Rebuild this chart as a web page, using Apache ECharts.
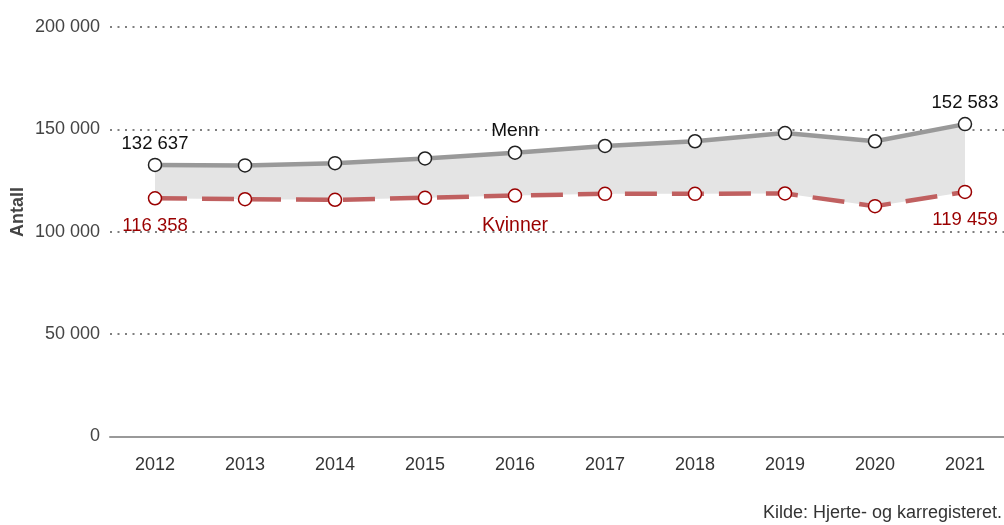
<!DOCTYPE html>
<html>
<head>
<meta charset="utf-8">
<script src="https://cdn.jsdelivr.net/npm/echarts@6/dist/echarts.min.js"></script>
<style>
  html, body { margin: 0; padding: 0; background: #fff; }
  #main { width: 1004px; height: 525px; }
</style>
</head>
<body>
<div id="main"></div>
<script>
const years = ['2012', '2013', '2014', '2015', '2016', '2017', '2018', '2019', '2020', '2021'];
const menn = [132637, 132400, 133500, 135800, 138600, 141900, 144200, 148200, 144200, 152583];
const kvinner = [116358, 115900, 115600, 116600, 117700, 118500, 118500, 118700, 112500, 119459];
const yTicks = [0, 50000, 100000, 150000, 200000];

const fmt = v => String(v).replace(/\B(?=(\d{3})+(?!\d))/g, ' ');
const font = 'Liberation Sans, Arial, sans-serif';
const last = years.length - 1;

// gap between the two lines, stacked on top of Kvinner for the gray band
const gap = menn.map((v, i) => v - kvinner[i]);

const mennData = menn.map((v, i) => {
  if (i === 0 || i === last) {
    return { value: v, label: { show: true, position: 'top', distance: 4, formatter: p => fmt(p.value), color: '#111', fontSize: 18.5 } };
  }
  if (i === 4) {
    return { value: v, label: { show: true, position: 'top', distance: 5, formatter: 'Menn', color: '#111', fontSize: 19 } };
  }
  return v;
});

const kvinnerData = kvinner.map((v, i) => {
  if (i === 0 || i === last) {
    return { value: v, label: { show: true, position: 'bottom', distance: 11, formatter: p => fmt(p.value), color: '#9a0000', fontSize: 18.5 } };
  }
  if (i === 4) {
    return { value: v, label: { show: true, position: 'bottom', distance: 12.5, formatter: 'Kvinner', color: '#9a0000', fontSize: 19.5 } };
  }
  return v;
});

var myChart = echarts.init(document.getElementById('main'));
myChart.setOption({
  animation: false,
  textStyle: { fontFamily: font },
  grid: { left: 110, width: 900, top: 27, bottom: 88.5, outerBoundsMode: 'none' },
  xAxis: {
    type: 'category',
    data: years,
    boundaryGap: true,
    axisLine: { lineStyle: { color: '#999', width: 2 } },
    axisTick: { alignWithLabel: true, length: 6, lineStyle: { color: '#666' } },
    axisLabel: { color: '#333', fontSize: 18, margin: 20 }
  },
  yAxis: {
    type: 'value',
    min: 0,
    max: 200000,
    interval: 50000,
    axisLine: { show: false },
    axisTick: { show: false },
    axisLabel: { color: '#444', fontSize: 18, margin: 10, formatter: v => yTicks.includes(v) ? fmt(v) : '' },
    splitLine: { lineStyle: { color: '#555', type: [2, 5.5], width: 1.5 } }
  },
  series: [
    {
      name: 'base',
      type: 'line',
      stack: 'band',
      data: kvinner,
      symbol: 'none',
      lineStyle: { opacity: 0 },
      silent: true
    },
    {
      name: 'band',
      type: 'line',
      stack: 'band',
      data: gap,
      symbol: 'none',
      lineStyle: { opacity: 0 },
      areaStyle: { color: '#e4e4e4', opacity: 1 },
      silent: true
    },
    {
      name: 'Kvinner',
      type: 'line',
      data: kvinnerData,
      symbol: 'circle',
      symbolSize: 13,
      itemStyle: { color: '#fff', borderColor: '#9a0000', borderWidth: 1.5 },
      lineStyle: { color: '#c06060', width: 4.5, type: [32, 15] },
      z: 3
    },
    {
      name: 'Menn',
      type: 'line',
      data: mennData,
      symbol: 'circle',
      symbolSize: 13,
      itemStyle: { color: '#fff', borderColor: '#222', borderWidth: 1.5 },
      lineStyle: { color: '#999', width: 4.5 },
      z: 4
    }
  ],
  graphic: [
    {
      type: 'text',
      x: 18,
      y: 212,
      rotation: Math.PI / 2,
      style: { text: 'Antall', fill: '#444', fontSize: 18, fontWeight: 'bold', fontFamily: font, align: 'center', verticalAlign: 'middle' }
    },
    {
      type: 'text',
      right: 2,
      bottom: 3,
      style: { text: 'Kilde: Hjerte- og karregisteret.', fill: '#333', fontSize: 18, fontFamily: font }
    }
  ]
});
</script>
</body>
</html>
